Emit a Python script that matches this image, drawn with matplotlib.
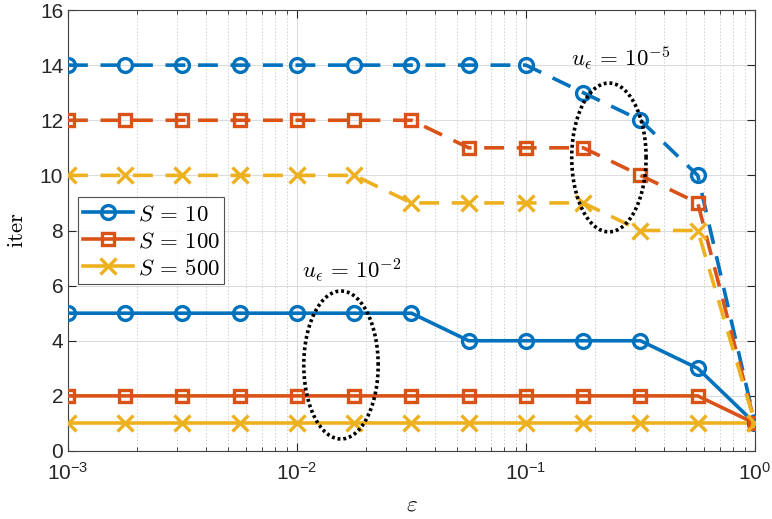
import numpy as np
import matplotlib
matplotlib.use("Agg")
import matplotlib.pyplot as plt
from matplotlib.ticker import LogLocator, FixedLocator, NullFormatter

plt.rcParams['font.family'] = ['Liberation Sans', 'DejaVu Sans']
plt.rcParams['mathtext.fontset'] = 'cm'

eps = [0.001, 0.001778, 0.003162, 0.005623, 0.01, 0.01778, 0.03162,
       0.05623, 0.1, 0.1778, 0.3162, 0.5623, 1.0]

# u_eps = 1e-5 (dashed)
d_s10 = [14, 14, 14, 14, 14, 14, 14, 14, 14, 13, 12, 10, 1]
d_s100 = [12, 12, 12, 12, 12, 12, 12, 11, 11, 11, 10, 9, 1]
d_s500 = [10, 10, 10, 10, 10, 10, 9, 9, 9, 9, 8, 8, 1]
# u_eps = 1e-2 (solid)
s_s10 = [5, 5, 5, 5, 5, 5, 5, 4, 4, 4, 4, 3, 1]
s_s100 = [2, 2, 2, 2, 2, 2, 2, 2, 2, 2, 2, 2, 1]
s_s500 = [1, 1, 1, 1, 1, 1, 1, 1, 1, 1, 1, 1, 1]

labels = [r'$S\,=\,10$', r'$S\,=\,100$', r'$S\,=\,500$']
colors = ['#0072BD', '#D95319', '#EDB120']
markers = ['o', 's', 'x']

fig = plt.figure(figsize=(7.72, 5.19), dpi=100)
ax = fig.add_axes([68/772, 1-451/519, (755-68)/772, (451-10)/519])

lw = 2.6
ms = [10, 9, 11]
handles = []
for ys, c, m, lab, k in zip([s_s10, s_s100, s_s500], colors, markers, labels, range(3)):
    h, = ax.plot(eps, ys, color=c, marker=m, lw=lw, ms=ms[k], mew=2.4,
                 mfc='none', label=lab, zorder=3)
    handles.append(h)
for ys, c, m, k in zip([d_s10, d_s100, d_s500], colors, markers, range(3)):
    ax.plot(eps, ys, color=c, marker=m, lw=lw, ms=ms[k], mew=2.4,
            mfc='none', ls=(0, (5.5, 3.5)), zorder=3)

# ellipses (in log10-x space)
t = np.linspace(0, 2*np.pi, 400)
def ell(cx, cy, w, h):
    xs = 10**(cx + w/2*np.cos(t))
    ys = cy + h/2*np.sin(t)
    ax.plot(xs, ys, color='k', lw=2.6, ls=(0, (0.8, 0.8)), zorder=4)
ell(-0.638, 10.65, 0.325, 5.4)
ell(-1.808, 3.12, 0.325, 5.37)

ax.text(10**(-0.585), 13.75, r'$u_{\epsilon}\,=\,10^{-5}$', fontsize=16.5, ha='center', va='bottom')
ax.text(10**(-1.76), 6.05, r'$u_{\epsilon}\,=\,10^{-2}$', fontsize=16.5, ha='center', va='bottom')

ax.set_xscale('log')
ax.set_xlim(1e-3, 1)
ax.set_ylim(0, 16)
ax.set_yticks(range(0, 17, 2))
ax.xaxis.set_major_locator(FixedLocator([1e-3, 1e-2, 1e-1, 1]))
ax.xaxis.set_minor_locator(LogLocator(base=10, subs=np.arange(2, 10), numticks=20))
ax.xaxis.set_minor_formatter(NullFormatter())
ax.set_xticklabels(['$\\mathregular{10^{-3}}$', '$\\mathregular{10^{-2}}$',
                    '$\\mathregular{10^{-1}}$', '$\\mathregular{10^{0}}$'])

ax.grid(True, which='major', color='#dcdcdc', lw=0.8, zorder=0)
ax.grid(True, which='minor', axis='x', color='#d0d0d0', lw=0.7, ls=(0, (1.5, 2)), zorder=0)
ax.set_axisbelow(True)
for s in ax.spines.values():
    s.set_color('#404040')
    s.set_linewidth(0.8)
ax.tick_params(which='both', direction='in', top=True, right=True, colors='#262626',
               labelsize=15)
ax.tick_params(which='major', length=6)
ax.tick_params(which='minor', length=3)
ax.tick_params(axis='x', pad=8)

ax.set_xlabel(r'$\varepsilon$', fontsize=16.5, va='baseline')
ax.xaxis.set_label_coords(0.5, -0.134)
ax.set_ylabel(r'$\mathrm{iter}$', fontsize=16.5, va='baseline')
ax.yaxis.set_label_coords(-0.0655, 0.5)

leg = ax.legend(handles=handles, loc='upper left', bbox_to_anchor=(0.0145, 0.575),
                fontsize=16.5, frameon=True, fancybox=False, edgecolor='#262626',
                handlelength=2.2, borderpad=0.2, labelspacing=0.18,
                handletextpad=0.2, borderaxespad=0)
leg.get_frame().set_linewidth(0.8)

fig.savefig('out.png', dpi=100)
